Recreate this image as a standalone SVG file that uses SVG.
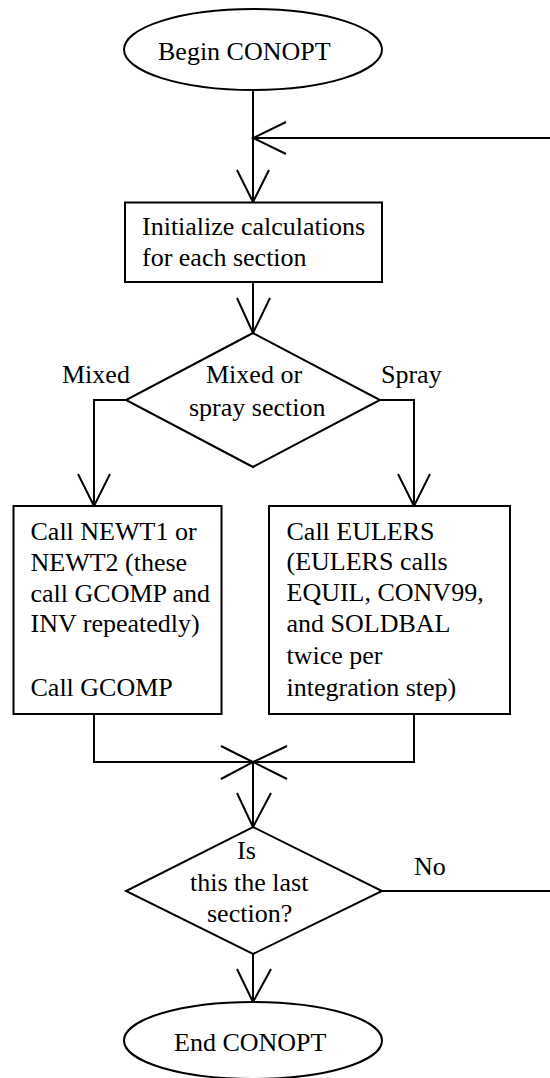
<svg xmlns="http://www.w3.org/2000/svg" width="550" height="1078" viewBox="0 0 550 1078">
<style>
.s{fill:#fff;stroke:#000;stroke-width:2}
.l{fill:none;stroke:#000;stroke-width:2}
text{font-family:'Liberation Serif','Times New Roman',Times,'DejaVu Serif',serif;font-size:26px;fill:#000}
</style>
<rect width="550" height="1078" fill="#fff"/>
<g id="connectors">
<path class="l" d="M253 90V202"/>
<path class="l" d="M237 170L253 202L269 170"/>
<path class="l" d="M550 138H253"/>
<path class="l" d="M286 122L253 138L286 154"/>
<path class="l" d="M253 282V333"/>
<path class="l" d="M237 298L253 333L270 298"/>
<path class="l" d="M126 400H94V506"/>
<path class="l" d="M78 474L94 506L110 474"/>
<path class="l" d="M380 400H414V506"/>
<path class="l" d="M398 474L414 506L430 474"/>
<path class="l" d="M94 714V762H414V714"/>
<path class="l" d="M221 746L253 762L221 779"/>
<path class="l" d="M287 746L253 762L287 779"/>
<path class="l" d="M253 762V827"/>
<path class="l" d="M237 793L253 827L271 793"/>
<path class="l" d="M382 891H550"/>
<path class="l" d="M253 954V1002"/>
<path class="l" d="M237 969L253 1002L271 969"/>
</g>
<g id="begin">
<ellipse class="s" cx="253" cy="49.5" rx="129" ry="40.5"/>
<text x="158" y="60" font-family="Liberation Serif, serif">Begin CONOPT</text>
</g>
<g id="init">
<rect class="s" x="125" y="202.5" width="257" height="79.5"/>
<text x="142" y="235">Initialize calculations</text>
<text x="142" y="266">for each section</text>
</g>
<g id="decision1">
<polygon class="s" points="253,333 380,400 253,467 126,400"/>
<text x="206" y="383">Mixed or</text>
<text x="189" y="416">spray section</text>
</g>
<g id="labels1">
<text x="62" y="383">Mixed</text>
<text x="381" y="383">Spray</text>
</g>
<g id="newt">
<rect class="s" x="13.5" y="506" width="208" height="208"/>
<text x="30.5" y="540">Call NEWT1 or</text>
<text x="30.5" y="571">NEWT2 (these</text>
<text x="30.5" y="601.5">call GCOMP and</text>
<text x="30.5" y="632">INV repeatedly)</text>
<text x="30.5" y="696">Call GCOMP</text>
</g>
<g id="eulers">
<rect class="s" x="269" y="506" width="241" height="208"/>
<text x="286.5" y="539.5">Call EULERS</text>
<text x="286.5" y="570">(EULERS calls</text>
<text x="286.5" y="601">EQUIL, CONV99,</text>
<text x="286.5" y="632">and SOLDBAL</text>
<text x="286.5" y="664">twice per</text>
<text x="286.5" y="696">integration step)</text>
</g>
<g id="decision2">
<polygon class="s" points="253,827 382,891 253,954 126,891"/>
<text x="237" y="859">Is</text>
<text x="190" y="890.5">this the last</text>
<text x="207" y="921.5">section?</text>
</g>
<g id="label2">
<text x="414" y="875">No</text>
</g>
<g id="end">
<ellipse class="s" cx="253" cy="1040.5" rx="129" ry="38.5"/>
<text x="174" y="1051">End CONOPT</text>
</g>
</svg>
